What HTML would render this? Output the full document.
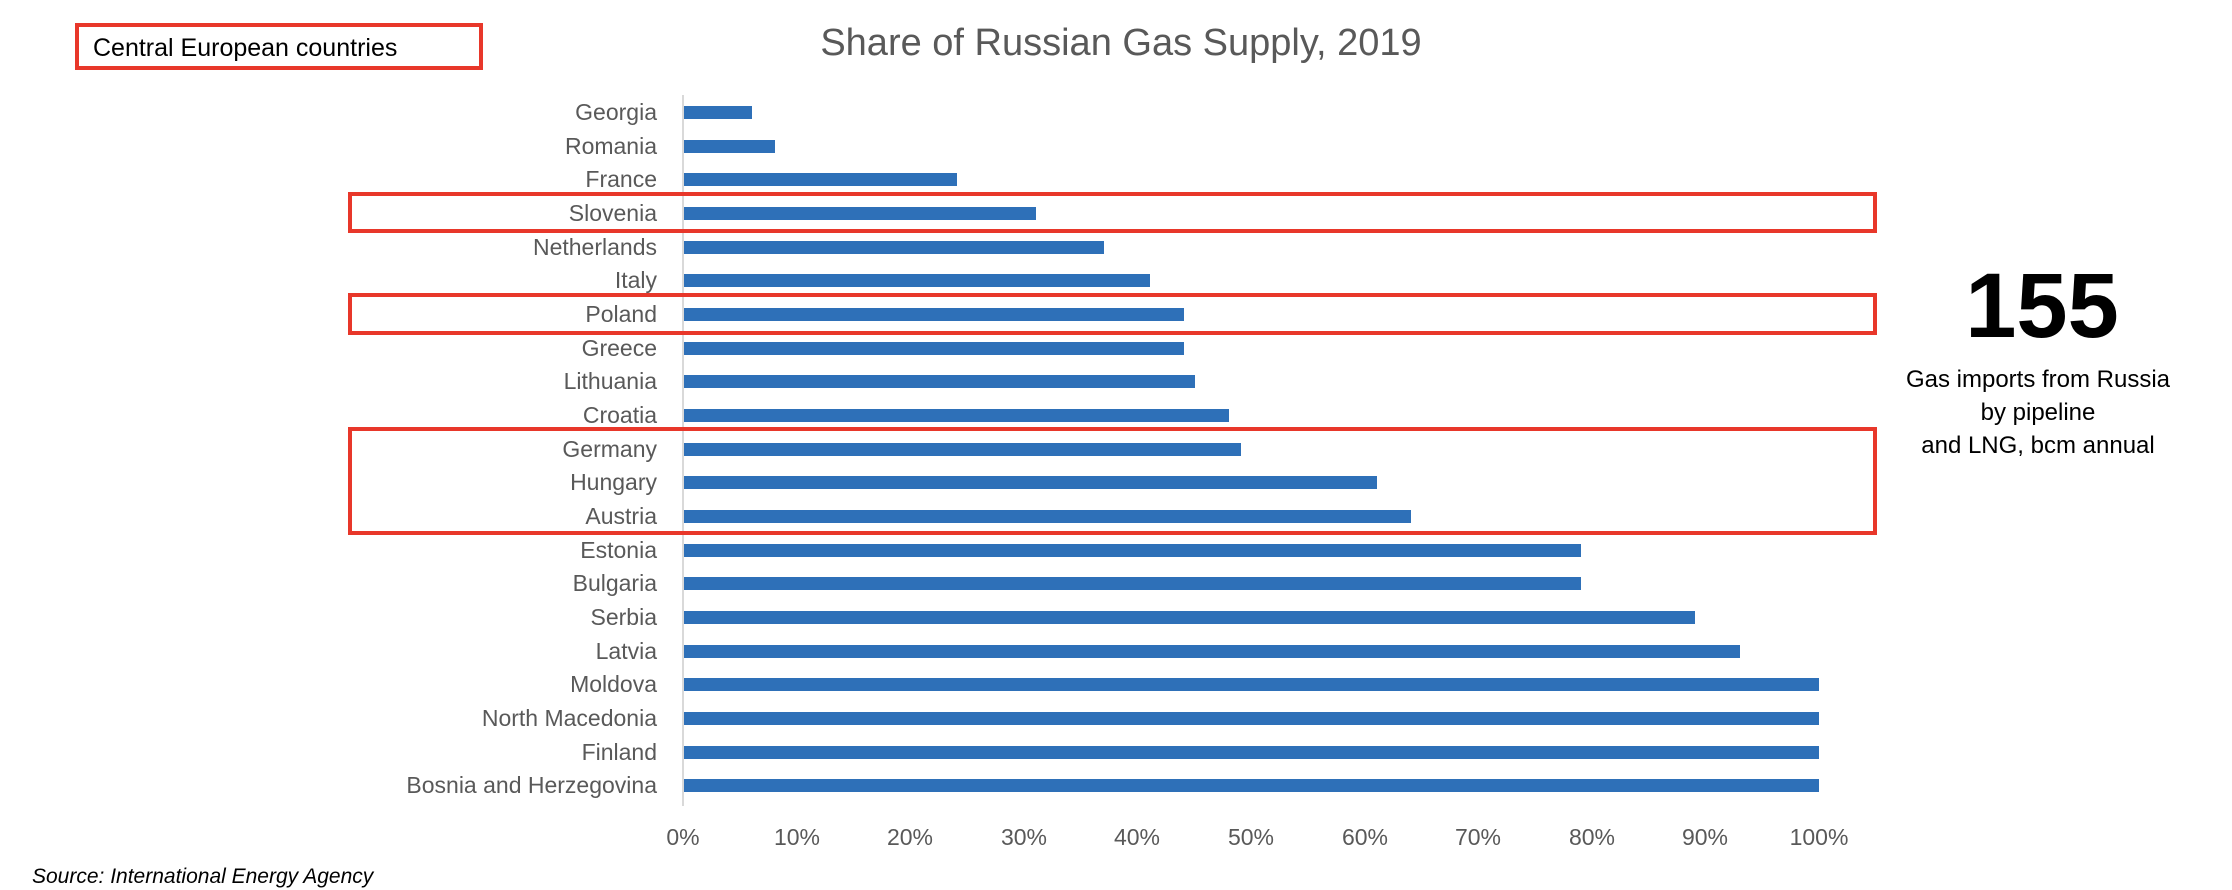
<!DOCTYPE html>
<html><head><meta charset="utf-8"><style>
html,body{margin:0;padding:0;background:#fff;}
svg{display:block;}
</style></head><body>
<svg width="2232" height="890" xmlns="http://www.w3.org/2000/svg" font-family="Liberation Sans, sans-serif">
<rect width="2232" height="890" fill="#fff"/>
<text x="1121" y="55" text-anchor="middle" font-size="38" fill="#595959">Share of Russian Gas Supply, 2019</text>
<rect x="77" y="25" width="404" height="43" fill="none" stroke="#e8372a" stroke-width="4"/>
<text x="93" y="56" font-size="25" fill="#000">Central European countries</text>
<line x1="683" y1="95" x2="683" y2="806" stroke="#d9d9d9" stroke-width="2"/>
<g fill="#2e70b8">
<rect x="684" y="106" width="68" height="13"/>
<rect x="684" y="140" width="91" height="13"/>
<rect x="684" y="173" width="273" height="13"/>
<rect x="684" y="207" width="352" height="13"/>
<rect x="684" y="241" width="420" height="13"/>
<rect x="684" y="274" width="466" height="13"/>
<rect x="684" y="308" width="500" height="13"/>
<rect x="684" y="342" width="500" height="13"/>
<rect x="684" y="375" width="511" height="13"/>
<rect x="684" y="409" width="545" height="13"/>
<rect x="684" y="443" width="557" height="13"/>
<rect x="684" y="476" width="693" height="13"/>
<rect x="684" y="510" width="727" height="13"/>
<rect x="684" y="544" width="897" height="13"/>
<rect x="684" y="577" width="897" height="13"/>
<rect x="684" y="611" width="1011" height="13"/>
<rect x="684" y="645" width="1056" height="13"/>
<rect x="684" y="678" width="1135" height="13"/>
<rect x="684" y="712" width="1135" height="13"/>
<rect x="684" y="746" width="1135" height="13"/>
<rect x="684" y="779" width="1135" height="13"/>
</g>
<g font-size="23" fill="#595959" text-anchor="end">
<text x="657" y="120">Georgia</text>
<text x="657" y="154">Romania</text>
<text x="657" y="187">France</text>
<text x="657" y="221">Slovenia</text>
<text x="657" y="255">Netherlands</text>
<text x="657" y="288">Italy</text>
<text x="657" y="322">Poland</text>
<text x="657" y="356">Greece</text>
<text x="657" y="389">Lithuania</text>
<text x="657" y="423">Croatia</text>
<text x="657" y="457">Germany</text>
<text x="657" y="490">Hungary</text>
<text x="657" y="524">Austria</text>
<text x="657" y="558">Estonia</text>
<text x="657" y="591">Bulgaria</text>
<text x="657" y="625">Serbia</text>
<text x="657" y="659">Latvia</text>
<text x="657" y="692">Moldova</text>
<text x="657" y="726">North Macedonia</text>
<text x="657" y="760">Finland</text>
<text x="657" y="793">Bosnia and Herzegovina</text>
</g>
<g fill="none" stroke="#e8372a" stroke-width="4">
<rect x="350" y="194" width="1525" height="37"/>
<rect x="350" y="295" width="1525" height="38"/>
<rect x="350" y="429" width="1525" height="104"/>
</g>
<g font-size="23" fill="#595959" text-anchor="middle">
<text x="683" y="845">0%</text>
<text x="797" y="845">10%</text>
<text x="910" y="845">20%</text>
<text x="1024" y="845">30%</text>
<text x="1137" y="845">40%</text>
<text x="1251" y="845">50%</text>
<text x="1365" y="845">60%</text>
<text x="1478" y="845">70%</text>
<text x="1592" y="845">80%</text>
<text x="1705" y="845">90%</text>
<text x="1819" y="845">100%</text>
</g>
<text x="2042" y="337" font-size="92" font-weight="bold" text-anchor="middle" fill="#000">155</text>
<g font-size="24" fill="#000" text-anchor="middle">
<text x="2038" y="387">Gas imports from Russia</text>
<text x="2038" y="420">by pipeline</text>
<text x="2038" y="453">and LNG, bcm annual</text>
</g>
<text x="32" y="883" font-size="21" font-style="italic" fill="#000">Source: International Energy Agency</text>
</svg>
</body></html>
